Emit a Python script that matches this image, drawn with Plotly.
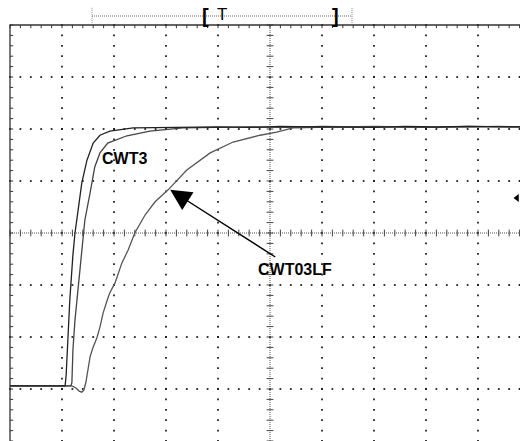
import numpy as np
import plotly.graph_objects as go

# ---- data (oscilloscope divisions: time div, amplitude div) ----
cwt3_fast_t = [0.0, 1.06, 1.08, 1.10, 1.15, 1.21, 1.25, 1.31, 1.38, 1.48, 1.60, 1.73, 1.92, 2.37, 3.33,
               4.0, 4.6, 5.2, 5.8, 6.4, 7.0, 7.6, 8.2, 8.8, 9.4, 9.9]
cwt3_fast_v = [-2.94, -2.94, -2.73, -2.25, -1.29, -0.42, 0.0, 0.44, 0.96, 1.40, 1.73, 1.88, 1.96, 2.02, 2.04,
               2.04, 2.03, 2.05, 2.04, 2.04, 2.03, 2.05, 2.04, 2.05, 2.04, 2.04]

cwt3_t = [0.0, 1.17, 1.19, 1.21, 1.25, 1.29, 1.33, 1.37, 1.40, 1.44, 1.54, 1.63, 1.73, 1.88, 2.25, 2.69,
          3.33, 3.98, 4.6, 5.3, 6.0, 6.7, 7.4, 8.1, 8.8, 9.4, 9.9]
cwt3_v = [-2.94, -2.94, -2.88, -2.25, -1.67, -1.29, -0.81, -0.42, -0.19, 0.25, 0.77, 1.27, 1.54, 1.73, 1.87, 1.96,
          2.02, 2.03, 2.04, 2.03, 2.05, 2.04, 2.04, 2.03, 2.05, 2.04, 2.04]

cwt03lf_t = [0.0, 1.19, 1.27, 1.33, 1.38, 1.42, 1.46, 1.50, 1.54, 1.60, 1.67, 1.73, 1.79, 1.87, 1.92, 2.02,
             2.08, 2.15, 2.27, 2.40, 2.60, 2.79, 3.04, 3.40, 3.85, 4.29, 4.81, 5.13, 5.44, 5.77,
             6.4, 7.0, 7.6, 8.2, 8.8, 9.4, 9.9]
cwt03lf_v = [-2.94, -2.94, -2.98, -3.04, -3.06, -3.02, -2.87, -2.63, -2.38, -2.19, -2.02, -1.81, -1.54, -1.29,
             -1.15, -0.96, -0.77, -0.58, -0.33, 0.0, 0.35, 0.60, 0.83, 1.21, 1.54, 1.75, 1.88, 1.94, 2.02, 2.03,
             2.04, 2.05, 2.04, 2.03, 2.04, 2.05, 2.04]

label_fast = "CWT3"
label_slow = "CWT03LF"
n_xdiv = 10
n_ydiv = 8

fig = go.Figure()

xs_minor = np.round(np.arange(0, n_xdiv + 0.001, 0.2), 3)
ys_minor = np.round(np.arange(-n_ydiv / 2, n_ydiv / 2 + 0.001, 0.2), 3)

# dotted grid
gx, gy = [], []
for v in range(1, n_xdiv):
    if v == n_xdiv // 2:
        continue
    gx += [v] * len(ys_minor)
    gy += list(ys_minor)
for h in range(-n_ydiv // 2 + 1, n_ydiv // 2):
    if h == 0:
        continue
    gx += list(xs_minor)
    gy += [h] * len(xs_minor)
fig.add_trace(go.Scatter(x=gx, y=gy, mode="markers", hoverinfo="skip",
                         marker=dict(symbol="square", size=1.8, color="#222", line=dict(width=0))))

# center axes (dotted, with ticks)
cx = n_xdiv / 2
fig.add_trace(go.Scatter(x=[cx, cx], y=[-4, 4], mode="lines", hoverinfo="skip",
                         line=dict(color="#555", width=1, dash="1px,1px")))
fig.add_trace(go.Scatter(x=[0, 10], y=[0, 0], mode="lines", hoverinfo="skip",
                         line=dict(color="#555", width=1, dash="1px,1px")))
tx, ty = [], []
for y in ys_minor:
    tx += [cx - 0.065, cx + 0.065, None]
    ty += [y, y, None]
for x in xs_minor:
    tx += [x, x, None]
    ty += [-0.065, 0.065, None]
fig.add_trace(go.Scatter(x=tx, y=ty, mode="lines", hoverinfo="skip",
                         line=dict(color="#444", width=1)))

# border (left & top) with inward ticks
fig.add_trace(go.Scatter(x=[0, 0, 10], y=[-4, 4, 4], mode="lines", hoverinfo="skip",
                         line=dict(color="#333", width=1.3)))
bx, by = [], []
for y in ys_minor:
    bx += [0, 0.06, None]
    by += [y, y, None]
for x in xs_minor:
    bx += [x, x, None]
    by += [4, 3.94, None]
fig.add_trace(go.Scatter(x=bx, y=by, mode="lines", hoverinfo="skip",
                         line=dict(color="#333", width=1)))

# waveforms
fig.add_trace(go.Scatter(x=cwt03lf_t, y=cwt03lf_v, mode="lines", hoverinfo="skip",
                         line=dict(color="#555", width=1.3)))
fig.add_trace(go.Scatter(x=cwt3_t, y=cwt3_v, mode="lines", hoverinfo="skip",
                         line=dict(color="#444", width=1.3)))
fig.add_trace(go.Scatter(x=cwt3_fast_t, y=cwt3_fast_v, mode="lines", hoverinfo="skip",
                         line=dict(color="#222", width=1.3)))

# top trigger bar
bar_y = 4.173
fig.add_trace(go.Scatter(x=[1.577, 6.577], y=[bar_y, bar_y], mode="lines", hoverinfo="skip",
                         line=dict(color="#666", width=1, dash="1px,1px")))
fig.add_trace(go.Scatter(x=[1.577, 1.577, None, 6.577, 6.577], y=[4.33, 4.04, None, 4.33, 4.04],
                         mode="lines", hoverinfo="skip",
                         line=dict(color="#888", width=1, dash="1px,1px")))

# right-edge marker
fig.add_trace(go.Scatter(x=[9.75], y=[0.673], mode="markers", hoverinfo="skip",
                         marker=dict(symbol="triangle-left", size=7, color="black")))

font_b = dict(family="Liberation Sans, Arial, sans-serif", size=16, color="black")
annotations = [
    dict(x=2.21, y=1.44, xref="x", yref="y", text="<b>%s</b>" % label_fast, showarrow=False, font=font_b),
    dict(x=5.48, y=-0.71, xref="x", yref="y", text="<b>%s</b>" % label_slow, showarrow=False, font=font_b),
    dict(x=3.08, y=0.83, xref="x", yref="y", ax=5.13, ay=-0.48, axref="x", ayref="y",
         text="", showarrow=True, arrowhead=2, arrowsize=3, arrowwidth=1.4, arrowcolor="black"),
    dict(x=3.76, y=bar_y, xref="x", yref="y", text="<b>[</b>", showarrow=False,
         font=dict(family="Liberation Sans, Arial, sans-serif", size=20, color="black")),
    dict(x=4.08, y=bar_y + 0.03, xref="x", yref="y", text="T", showarrow=False,
         font=dict(family="Liberation Sans, Arial, sans-serif", size=17, color="black")),
    dict(x=6.25, y=bar_y, xref="x", yref="y", text="<b>]</b>", showarrow=False,
         font=dict(family="Liberation Sans, Arial, sans-serif", size=20, color="black")),
]

fig.update_layout(
    width=520, height=441, autosize=False,
    margin=dict(l=0, r=0, t=0, b=0, pad=0),
    paper_bgcolor="white", plot_bgcolor="white",
    showlegend=False,
    xaxis=dict(range=[-10 / 52, 510 / 52], visible=False, fixedrange=True),
    yaxis=dict(range=[-4.0, 233 / 52], visible=False, fixedrange=True),
    annotations=annotations,
)

fig.write_html("out.html", config={"displayModeBar": False},
               post_script="document.body.style.margin='0';document.body.style.overflow='hidden';")
